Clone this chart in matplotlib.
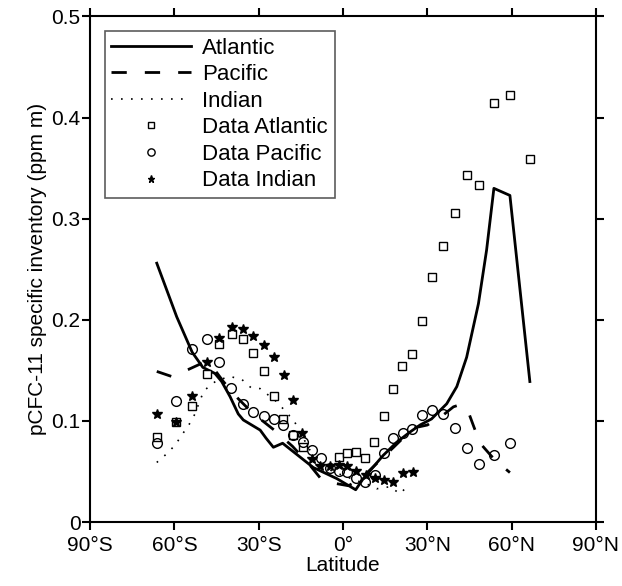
import matplotlib
matplotlib.use("Agg")
import matplotlib.pyplot as plt

plt.rcParams['font.family'] = ['Liberation Sans', 'DejaVu Sans']

# model lines (latitude, inventory)
atl_lat = [-66.3, -59.2, -53.7, -49.9, -45.6, -43.2, -40.2, -37.3, -35.5, -32.5, -29.5, -27.4,
           -24.8, -21.5, -16.5, -10.6, -2.2, 4.5, 7.2, 14.3, 19.1, 23.8, 27.4, 31.5, 36.9,
           40.5, 44.0, 48.2, 51.1, 53.7, 59.4, 66.5]
atl_val = [0.256, 0.203, 0.168, 0.153, 0.147, 0.139, 0.124, 0.107, 0.101, 0.096, 0.091, 0.083,
           0.074, 0.078, 0.067, 0.054, 0.043, 0.032, 0.043, 0.066, 0.079, 0.089, 0.096, 0.102, 0.117,
           0.134, 0.163, 0.216, 0.269, 0.330, 0.323, 0.139]

pac_lat = [-66.3, -61.0, -55.0, -49.5, -47.0, -45.0, -42.6, -37.3, -33.7, -29.5, -24.5, -18.0,
           -11.7, -8.2, -2.2, 1.9, 6.0, 12.0, 18.0, 25.0, 30.0, 35.7, 39.3, 41.5, 44.6, 46.6,
           48.8, 52.9, 56.8, 59.4]
pac_val = [0.149, 0.144, 0.151, 0.158, 0.154, 0.148, 0.139, 0.122, 0.112, 0.102, 0.091, 0.075,
           0.056, 0.044, 0.038, 0.036, 0.042, 0.058, 0.074, 0.093, 0.096, 0.106, 0.114, 0.116, 0.109, 0.094,
           0.078, 0.065, 0.055, 0.049]

ind_lat = [-66.3, -63.0, -59.8, -57.4, -54.7, -52.7, -51.1, -49.5, -45.0, -40.2, -36.0, -32.8,
           -29.5, -23.6, -20.3, -17.4, -12.0, -5.0, 0.0, 5.0, 10.0, 12.0, 16.7, 20.3, 22.7]
ind_val = [0.059, 0.067, 0.076, 0.086, 0.097, 0.107, 0.119, 0.130, 0.140, 0.144, 0.141, 0.133,
           0.132, 0.119, 0.109, 0.100, 0.072, 0.052, 0.046, 0.041, 0.036, 0.033, 0.035, 0.028, 0.035]

# observations
d_atl_lat = [-66.3, -59.4, -53.7, -48.5, -44.0, -39.6, -35.7, -31.9, -28.0, -24.6, -21.2, -17.7,
             -14.3, -1.3, 1.5, 4.6, 7.8, 11.2, 14.5, 17.7, 21.1, 24.7, 28.0, 31.8, 35.7, 39.9,
             44.0, 48.5, 53.7, 59.4, 66.5]
d_atl_val = [0.084, 0.0985, 0.115, 0.146, 0.176, 0.186, 0.181, 0.167, 0.149, 0.125, 0.102, 0.086,
             0.074, 0.064, 0.068, 0.0695, 0.063, 0.079, 0.105, 0.132, 0.154, 0.166, 0.199, 0.242,
             0.273, 0.306, 0.343, 0.333, 0.414, 0.422, 0.359]

d_pac_lat = [-66.3, -59.4, -53.6, -48.5, -44.0, -39.8, -35.7, -31.9, -28.0, -24.6, -21.2, -17.9,
             -14.3, -11.1, -7.9, -4.6, -1.6, 1.5, 4.7, 7.9, 11.3, 14.6, 17.9, 21.2, 24.7, 28.0,
             31.8, 35.5, 39.8, 44.0, 48.5, 53.7, 59.4]
d_pac_val = [0.078, 0.120, 0.171, 0.181, 0.158, 0.133, 0.117, 0.109, 0.105, 0.102, 0.096, 0.086,
             0.079, 0.071, 0.063, 0.054, 0.051, 0.050, 0.044, 0.040, 0.047, 0.068, 0.083, 0.088, 0.092, 0.106,
             0.111, 0.107, 0.093, 0.073, 0.057, 0.066, 0.078]

d_ind_lat = [-66.3, -59.4, -53.7, -48.5, -44.0, -39.6, -35.7, -31.9, -28.0, -24.6, -21.1, -17.7,
             -14.5, -11.1, -8.2, -4.8, -1.6, 1.5, 4.7, 8.0, 11.3, 14.5, 17.8, 21.2, 24.8]
d_ind_val = [0.107, 0.0985, 0.125, 0.158, 0.182, 0.193, 0.191, 0.184, 0.175, 0.163, 0.145, 0.121,
             0.088, 0.062, 0.055, 0.055, 0.056, 0.055, 0.051, 0.047, 0.044, 0.042, 0.040, 0.049, 0.050]

xticks = [-90, -60, -30, 0, 30, 60, 90]
xlabels = ["90°S", "60°S", "30°S", "0°", "30°N", "60°N", "90°N"]

fig = plt.figure(figsize=(6.22, 5.86), dpi=100)
ax = fig.add_axes([0.145, 0.109, 0.813, 0.863])

ax.plot(atl_lat, atl_val, color="black", lw=2, label="Atlantic")
ax.plot(pac_lat, pac_val, color="black", lw=2, dashes=(5.5, 6.5), label="Pacific")
ax.plot(ind_lat, ind_val, color="black", lw=1.2, dashes=(1, 5), label="Indian")
ax.plot(d_atl_lat, d_atl_val, ls="none", marker="s", ms=5.5, mfc="white", mec="black", mew=1,
        label="Data Atlantic")
ax.plot(d_pac_lat, d_pac_val, ls="none", marker="o", ms=7, mfc="none", mec="black", mew=1,
        label="Data Pacific")
ax.plot(d_ind_lat, d_ind_val, ls="none", marker="*", ms=7, color="black", label="Data Indian")

ax.set_xlim(-90, 90)
ax.set_ylim(0, 0.5)
ax.set_xticks(xticks)
ax.set_xticklabels(xlabels)
ax.set_yticks([0, 0.1, 0.2, 0.3, 0.4, 0.5])
ax.set_yticklabels(["0", "0.1", "0.2", "0.3", "0.4", "0.5"])
ax.tick_params(direction="out", length=6, width=1.5, labelsize=15, pad=1,
               top=True, right=True)
ax.tick_params(axis="x", pad=4)
for s in ax.spines.values():
    s.set_linewidth(1.5)

ax.set_xlabel("Latitude", fontsize=15, labelpad=1)
ax.set_ylabel("pCFC-11 specific inventory (ppm m)", fontsize=15, labelpad=3)

leg = ax.legend(loc="upper left", fontsize=16, frameon=True, fancybox=False,
                edgecolor="#333333", handlelength=3.6, borderaxespad=0.65,
                borderpad=0.3, labelspacing=0.25, handletextpad=0.5, markerscale=0.75)
leg.get_frame().set_linewidth(1.2)

fig.savefig("out.png", dpi=100)
